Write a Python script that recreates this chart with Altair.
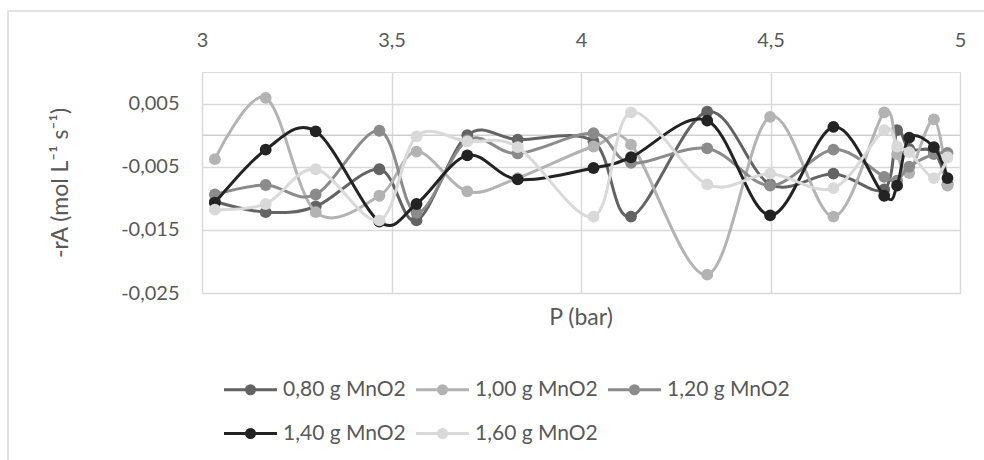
import altair as alt
import pandas as pd

# ---- data ----
pressure = [3.034, 3.168, 3.300, 3.468, 3.566, 3.700, 3.833, 4.033, 4.132,
            4.333, 4.499, 4.666, 4.800, 4.834, 4.866, 4.931, 4.967]
series_names = ["0,80 g MnO2", "1,00 g MnO2", "1,20 g MnO2", "1,40 g MnO2", "1,60 g MnO2"]
rate_080 = [-0.0105, -0.0122, -0.0113, -0.0054, -0.0135, 0.0000, -0.0007, -0.0010, -0.0129,
            0.0037, -0.0078, -0.0061, -0.0086, 0.0008, -0.0022, -0.0026, -0.0078]
rate_100 = [-0.0038, 0.0059, -0.0122, -0.0096, -0.0026, -0.0089, -0.0068, -0.0018, -0.0015,
            -0.0221, 0.0029, -0.0129, 0.0036, -0.0030, -0.0060, 0.0025, -0.0080]
rate_120 = [-0.0094, -0.0079, -0.0094, 0.0007, -0.0123, -0.0008, -0.0029, 0.0003, -0.0044,
            -0.0021, -0.0080, -0.0023, -0.0066, -0.0072, -0.0050, -0.0030, -0.0028]
rate_140 = [-0.0107, -0.0023, 0.0006, -0.0137, -0.0109, -0.0032, -0.0070, -0.0052, -0.0035,
            0.0023, -0.0127, 0.0013, -0.0096, -0.0080, -0.0004, -0.0019, -0.0068]
rate_160 = [-0.0118, -0.0109, -0.0054, -0.0135, -0.0002, -0.0010, -0.0019, -0.0129, 0.0036,
            -0.0078, -0.0061, -0.0084, 0.0008, -0.0018, -0.0027, -0.0068, -0.0035]
x_ticks = [3, 3.5, 4, 4.5, 5]
y_ticks = [-0.025, -0.015, -0.005, 0.005]
colors = ["#636363", "#b3b3b3", "#8b8b8b", "#232323", "#d9d9d9"]

rows = []
for name, vals in zip(series_names, [rate_080, rate_100, rate_120, rate_140, rate_160]):
    for i, (p, v) in enumerate(zip(pressure, vals)):
        rows.append({"series": name, "P": p, "rA": v, "idx": i})
df = pd.DataFrame(rows)

W, H = 758, 221
FONT = "Lato"
TXT = "#595959"
GRID = "#d9d9d9"

xscale = alt.Scale(domain=[3, 5], nice=False, zero=False)
yscale = alt.Scale(domain=[-0.025, 0.01], nice=False, zero=False)

xaxis = alt.Axis(orient="top", values=x_ticks, labelExpr="replace(toString(datum.value), '.', ',')",
                 grid=True, gridColor=GRID, gridWidth=1.5, domain=False, ticks=False, tickSize=0,
                 labelPadding=22, labelFont=FONT, labelFontSize=20, labelColor=TXT,
                 labelFlush=False, labelOverlap=False, title=None)
yaxis = alt.Axis(values=y_ticks,
                 labelExpr="(datum.value < 0 ? '-' : '') + replace(format(abs(datum.value), '.3f'), '.', ',')",
                 grid=True, gridColor=GRID, gridWidth=1.5, domain=False, ticks=False, tickSize=0,
                 labelPadding=23, labelFont=FONT, labelFontSize=20, labelColor=TXT,
                 labelOverlap=False,
                 title="-rA (mol L\u207b\u00b9 s\u207b\u00b9)", titleFont=FONT, titleFontSize=23,
                 titleFontWeight="normal", titleColor=TXT, titleAngle=270,
                 titleX=-142, titleY=H / 2, titleAlign="center", titleBaseline="middle")

sym_path = "M-2.65,0H2.65M0.4,0A0.4,0.4,0,1,1,-0.4,0A0.4,0.4,0,1,1,0.4,0Z"
legend = alt.Legend(orient="none", legendX=37, legendY=306, columns=3, direction="horizontal",
                    title=None,
                    symbolType=sym_path, symbolSize=400, symbolStrokeWidth=3,
                    labelFont=FONT, labelFontSize=21, labelColor=TXT, labelOffset=21,
                    rowPadding=22, columnPadding=4, padding=0, labelLimit=300)
color = alt.Color("series:N", scale=alt.Scale(domain=series_names, range=colors), legend=legend)

base = alt.Chart(df).encode(
    x=alt.X("P:Q", scale=xscale, axis=xaxis),
    y=alt.Y("rA:Q", scale=yscale, axis=yaxis),
    color=color,
    order="idx:Q",
)

frame = alt.Chart(pd.DataFrame({"a": [0]})).mark_rect(
    fill="transparent", stroke=GRID, strokeWidth=1.5
).encode(x=alt.value(-194), x2=alt.value(900), y=alt.value(-61), y2=alt.value(500))

zero_rule = alt.Chart(pd.DataFrame({"rA": [0.0]})).mark_rule(color="#cfcfcf", strokeWidth=1.5).encode(
    y=alt.Y("rA:Q", scale=yscale, axis=yaxis)
)

xtitle = alt.Chart(pd.DataFrame({"t": ["P (bar)"]})).mark_text(
    font=FONT, fontSize=23, color=TXT, baseline="middle", align="center"
).encode(x=alt.value(W / 2), y=alt.value(H + 25), text="t:N")

layers = [frame, zero_rule]
for name in series_names:
    sub = base.transform_filter(alt.datum.series == name)
    layers.append(sub.mark_line(interpolate="cardinal", tension=0, strokeWidth=3))
    layers.append(sub.mark_point(filled=True, size=140, opacity=1, shape="circle"))
layers.append(xtitle)

chart = alt.layer(*layers).properties(
    width=W, height=H,
    autosize=alt.AutoSizeParams(type="none"),
    padding={"left": 202, "top": 72, "right": 24, "bottom": 167},
).configure_view(stroke=None).configure(background="white")

chart.save("out.html", embed_options={"renderer": "svg", "actions": False})
